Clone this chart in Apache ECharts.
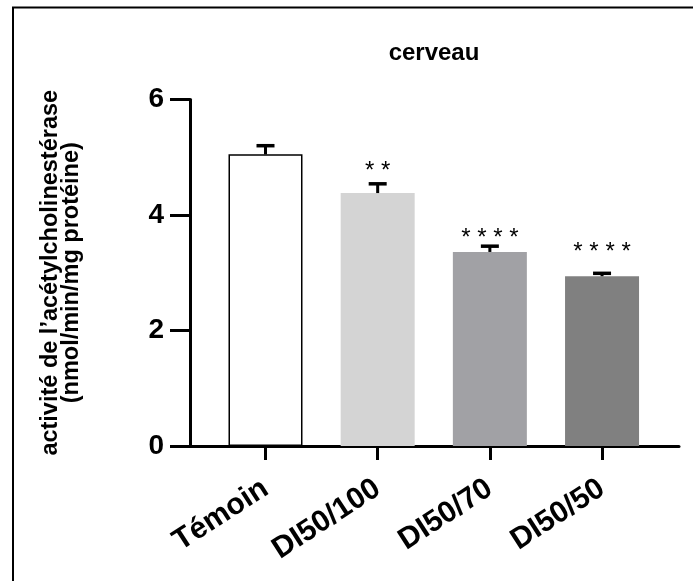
<!DOCTYPE html>
<html>
<head>
<meta charset="utf-8">
<script src="https://cdn.jsdelivr.net/npm/echarts@6/dist/echarts.min.js"></script>
<style>
  html, body { margin: 0; padding: 0; background: #fff; }
  #barChart { width: 693px; height: 581px; }
</style>
</head>
<body>
<div id="barChart"></div>
<script>
// données
const groupes = ['Témoin', 'DI50/100', 'DI50/70', 'DI50/50'];
const moyennes = [5.05, 4.38, 3.36, 2.94];
const erreurs = [0.15, 0.16, 0.10, 0.05];
const etoiles = ['', '**', '****', '****'];
const couleurs = ['#ffffff', '#d4d4d4', '#a1a1a5', '#808080'];
const yTicks = [0, 2, 4, 6];

const police = 'Liberation Sans, Arial, sans-serif';
const chart = echarts.init(document.getElementById('barChart'));

// décalage des astérisques au-dessus des barres d'erreur
const decalage = [0, 12, 8, 21];

chart.setOption({
  backgroundColor: '#fff',
  animation: false,
  title: {
    text: 'cerveau',
    left: 429,
    top: 36,
    textAlign: 'center',
    textStyle: { fontFamily: police, fontWeight: 'bold', fontSize: 24, color: '#000' }
  },
  graphic: [
    { type: 'line', shape: { x1: 12, y1: 7.5, x2: 693, y2: 7.5 }, style: { stroke: '#000', lineWidth: 2 } },
    { type: 'line', shape: { x1: 13, y1: 7, x2: 13, y2: 581 }, style: { stroke: '#000', lineWidth: 2 } }
  ],
  grid: { left: 190, right: 14, top: 99.5, bottom: 135 },
  xAxis: {
    type: 'value',
    min: -0.673,
    max: 3.686,
    splitLine: { show: false },
    axisLine: { onZero: false, lineStyle: { color: '#000', width: 3 } },
    axisTick: { customValues: [0, 1, 2, 3], length: 14, lineStyle: { color: '#000', width: 3 } },
    axisLabel: {
      customValues: [0, 1, 2, 3],
      formatter: v => groupes[Math.round(v)],
      rotate: 33,
      margin: 40,
      fontFamily: police,
      fontWeight: 'bold',
      fontSize: 30,
      color: '#000'
    }
  },
  yAxis: {
    type: 'value',
    min: 0,
    max: 6,
    interval: 2,
    splitLine: { show: false },
    axisLine: { show: true, onZero: false, lineStyle: { color: '#000', width: 3 } },
    axisTick: { show: true, length: 20, lineStyle: { color: '#000', width: 3 } },
    axisLabel: {
      customValues: yTicks,
      margin: 26,
      fontFamily: police,
      fontWeight: 'bold',
      fontSize: 28,
      color: '#000'
    },
    name: 'activité de l’acétylcholinestérase\n(nmol/min/mg protéine)',
    nameLocation: 'middle',
    nameGap: 108,
    nameTextStyle: { fontFamily: police, fontWeight: 'bold', fontSize: 23.5, lineHeight: 21, color: '#000' }
  },
  series: [
    {
      type: 'bar',
      barWidth: 74,
      data: moyennes.map((m, i) => ({
        value: [i, m],
        itemStyle: {
          color: couleurs[i],
          borderColor: i === 0 ? '#000' : couleurs[i],
          borderWidth: i === 0 ? 1.5 : 0
        }
      }))
    },
    {
      type: 'custom',
      data: moyennes.map((m, i) => [i, m, m + erreurs[i]]),
      z: 3,
      renderItem: function (params, api) {
        const i = api.value(0);
        const bas = api.coord([i, api.value(1)]);
        const haut = api.coord([i, api.value(2)]);
        const enfants = [
          { type: 'line', shape: { x1: bas[0], y1: bas[1], x2: haut[0], y2: haut[1] }, style: { stroke: '#000', lineWidth: 3 } },
          { type: 'line', shape: { x1: haut[0] - 9, y1: haut[1], x2: haut[0] + 9, y2: haut[1] }, style: { stroke: '#000', lineWidth: 3.5 } }
        ];
        const txt = etoiles[params.dataIndex];
        if (txt) {
          enfants.push({
            type: 'text',
            x: haut[0],
            y: haut[1] - decalage[params.dataIndex],
            style: {
              text: txt.split('').join(' '),
              fontFamily: police,
              fontSize: 24,
              fill: '#000',
              align: 'center',
              verticalAlign: 'middle'
            }
          });
        }
        return { type: 'group', children: enfants };
      }
    }
  ]
});
</script>
</body>
</html>
